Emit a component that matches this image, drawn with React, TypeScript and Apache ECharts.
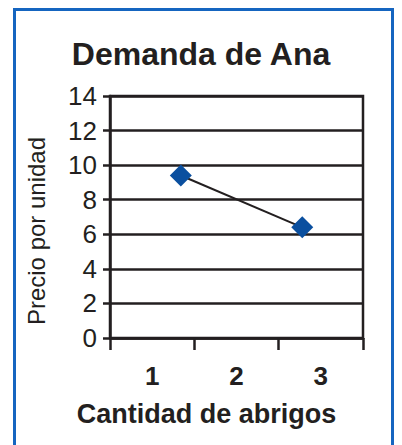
import React, { useEffect, useRef } from "react";
import * as echarts from "echarts";

const titleText = "Demanda de Ana";
const xAxisName = "Cantidad de abrigos";
const yAxisName = "Precio por unidad";
const categories = ["1", "2", "3"];
const pointX = [1.34, 2.78];
const pointY = [9.4, 6.4];
const yMin = 0;
const yMax = 14;
const yStep = 2;

const INK = "#231f20";
const BLUE = "#1565c0";
const MARK = "#0a4f9f";

export default function App() {
  const ref = useRef<HTMLDivElement>(null);
  useEffect(() => {
    if (!ref.current) return;
    const chart = echarts.init(ref.current, null, { renderer: "svg" });
    const font = "Liberation Sans, Arial, sans-serif";
    chart.setOption({
      animation: false,
      backgroundColor: "#ffffff",
      textStyle: { fontFamily: font },
      title: {
        text: titleText,
        left: "center",
        top: 33,
        textStyle: { fontFamily: font, fontSize: 32, fontWeight: "bold", color: INK },
      },
      graphic: [
        {
          type: "rect",
          shape: { x: 14.5, y: 9.5, width: 378, height: 470 },
          style: { fill: "none", stroke: BLUE, lineWidth: 3 },
          silent: true,
        },
      ],
      grid: {
        left: 110,
        right: 39,
        top: 96,
        bottom: 107,
        show: true,
        borderColor: INK,
        borderWidth: 2.5,
        backgroundColor: "transparent",
      },
      xAxis: [
        {
          type: "category",
          data: categories,
          boundaryGap: true,
          name: xAxisName,
          nameLocation: "middle",
          nameGap: 62,
          nameTextStyle: {
            fontFamily: font,
            fontSize: 27,
            fontWeight: "bold",
            color: INK,
            padding: [0, 60, 0, 0],
          },
          axisLine: { show: true, lineStyle: { color: INK, width: 2.5 } },
          axisTick: { show: true, length: 12, alignWithLabel: false, lineStyle: { color: INK, width: 2.5 } },
          axisLabel: { margin: 25, fontSize: 26, fontWeight: "bold", color: INK, fontFamily: font },
          splitLine: { show: false },
        },
        {
          type: "value",
          min: 0.5,
          max: 3.5,
          show: false,
        },
      ],
      yAxis: {
        type: "value",
        min: yMin,
        max: yMax,
        interval: yStep,
        name: yAxisName,
        nameLocation: "middle",
        nameGap: 62,
        nameRotate: 90,
        nameTextStyle: {
          fontFamily: font,
          fontSize: 24,
          color: INK,
          padding: [0, 28, 0, 0],
        },
        axisLine: { show: true, lineStyle: { color: INK, width: 2.5 } },
        axisTick: { show: true, length: 7, lineStyle: { color: INK, width: 2.5 } },
        axisLabel: { margin: 13, fontSize: 26, color: INK, fontFamily: font },
        splitLine: { show: true, lineStyle: { color: INK, width: 2.5 } },
      },
      series: [
        {
          type: "line",
          xAxisIndex: 1,
          data: pointX.map((x, i) => [x, pointY[i]]),
          symbol: "diamond",
          symbolSize: 22,
          lineStyle: { color: INK, width: 2 },
          itemStyle: { color: MARK },
          z: 5,
        },
      ],
    });
    return () => chart.dispose();
  }, []);
  return (
    <div
      ref={ref}
      style={{ position: "absolute", left: 0, top: 0, width: 402, height: 445 }}
    />
  );
}
